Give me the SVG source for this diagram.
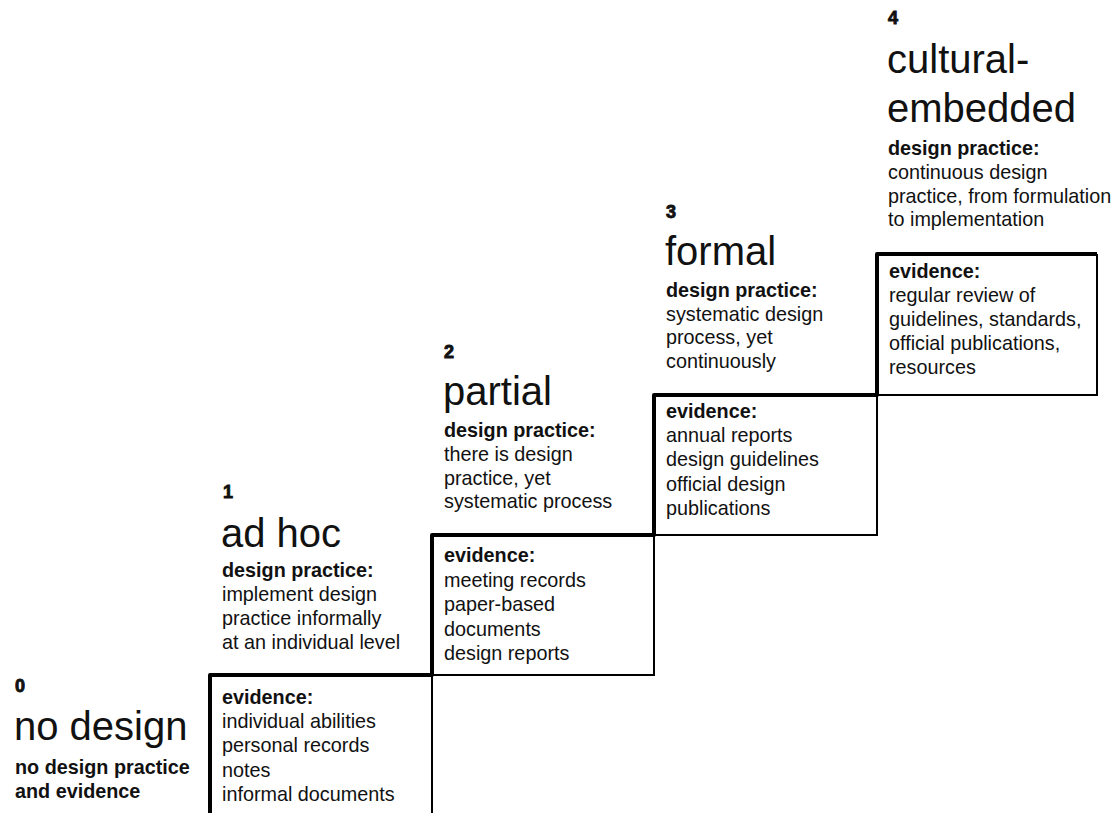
<svg xmlns="http://www.w3.org/2000/svg" width="1120" height="813" viewBox="0 0 1120 813">
  <style>
    text { font-family: "Liberation Sans", Arial, Helvetica, sans-serif; fill: #111; }
    .num { font-size: 18px; font-weight: bold; stroke: #111; stroke-width: 0.9; }
    .title { font-size: 40px; }
    .head { font-size: 19.8px; font-weight: bold; }
    .body { font-size: 19.8px; }
    .stair { fill: none; stroke: #000; stroke-width: 4; stroke-linejoin: round; }
    .edge { fill: none; stroke: #000; stroke-width: 2; }
  </style>
  <rect width="1120" height="813" fill="#fff"/>

  <!-- staircase outline and evidence boxes -->
  <g id="connectors">
    <path class="edge" d="M1097,254 V395 H877"/>
    <path class="edge" d="M877,395 V535 H654"/>
    <path class="edge" d="M654,535 V675 H432"/>
    <path class="edge" d="M432,675 V813"/>
    <path class="stair" d="M210,815 V675 H432 V535 H654 V395 H877 V254 H1097"/>
  </g>

  <!-- level 0 -->
  <g id="level0">
    <text class="num" x="15" y="692">0</text>
    <text class="title" x="14" y="740">no design</text>
    <text class="head" x="15" y="774">no design practice</text>
    <text class="head" x="15" y="798">and evidence</text>
  </g>

  <!-- level 1 -->
  <g id="level1">
    <text class="num" x="223" y="498">1</text>
    <text class="title" x="221" y="547">ad hoc</text>
    <text class="head" x="222" y="577">design practice:</text>
    <text class="body" x="222" y="601">implement design</text>
    <text class="body" x="222" y="625">practice informally</text>
    <text class="body" x="222" y="649">at an individual level</text>
    <text class="head" x="222" y="704">evidence:</text>
    <text class="body" x="222" y="728">individual abilities</text>
    <text class="body" x="222" y="752">personal records</text>
    <text class="body" x="222" y="777">notes</text>
    <text class="body" x="222" y="801">informal documents</text>
  </g>

  <!-- level 2 -->
  <g id="level2">
    <text class="num" x="444" y="358">2</text>
    <text class="title" x="443" y="405">partial</text>
    <text class="head" x="444" y="437">design practice:</text>
    <text class="body" x="444" y="461">there is design</text>
    <text class="body" x="444" y="485">practice, yet</text>
    <text class="body" x="444" y="508">systematic process</text>
    <text class="head" x="444" y="562">evidence:</text>
    <text class="body" x="444" y="587">meeting records</text>
    <text class="body" x="444" y="611">paper-based</text>
    <text class="body" x="444" y="636">documents</text>
    <text class="body" x="444" y="660">design reports</text>
  </g>

  <!-- level 3 -->
  <g id="level3">
    <text class="num" x="666" y="218">3</text>
    <text class="title" x="665" y="265">formal</text>
    <text class="head" x="666" y="297">design practice:</text>
    <text class="body" x="666" y="321">systematic design</text>
    <text class="body" x="666" y="344">process, yet</text>
    <text class="body" x="666" y="368">continuously</text>
    <text class="head" x="666" y="418">evidence:</text>
    <text class="body" x="666" y="442">annual reports</text>
    <text class="body" x="666" y="466">design guidelines</text>
    <text class="body" x="666" y="491">official design</text>
    <text class="body" x="666" y="515">publications</text>
  </g>

  <!-- level 4 -->
  <g id="level4">
    <text class="num" x="888" y="24">4</text>
    <text class="title" x="887" y="73">cultural-</text>
    <text class="title" x="887" y="122">embedded</text>
    <text class="head" x="888" y="155">design practice:</text>
    <text class="body" x="888" y="179">continuous design</text>
    <text class="body" x="888" y="203">practice, from formulation</text>
    <text class="body" x="888" y="226">to implementation</text>
    <text class="head" x="889" y="278">evidence:</text>
    <text class="body" x="889" y="302">regular review of</text>
    <text class="body" x="889" y="326">guidelines, standards,</text>
    <text class="body" x="889" y="350">official publications,</text>
    <text class="body" x="889" y="374">resources</text>
  </g>
</svg>
